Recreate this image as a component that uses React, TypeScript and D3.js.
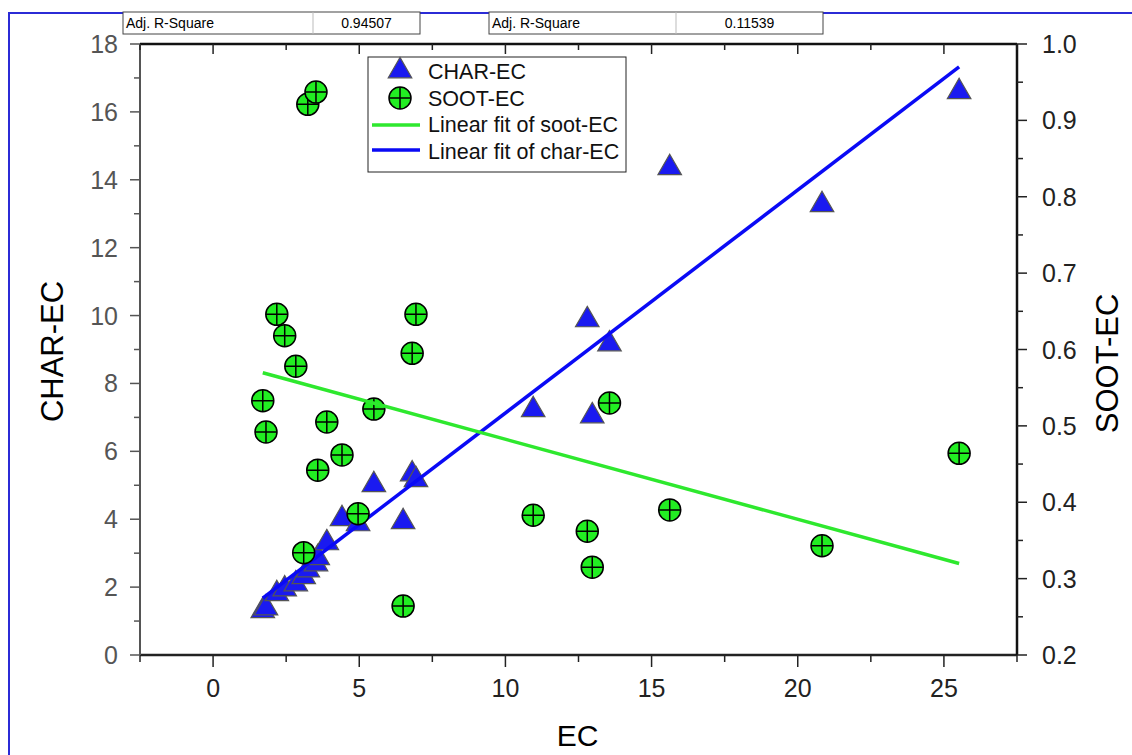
import React, { useEffect, useRef } from 'react';
import * as d3 from 'd3';

// EC values, with matching CHAR-EC and SOOT-EC readings
const ecValues = [1.70, 1.81, 2.18, 2.45, 2.83, 3.10, 3.24, 3.52, 3.58, 3.89, 4.41, 4.96, 5.50, 6.50, 6.81, 6.94, 10.95, 12.80, 12.97, 13.56, 15.62, 20.83, 25.52];
const charValues = [1.36, 1.44, 1.86, 2.00, 2.15, 2.36, 2.56, 2.74, 2.92, 3.36, 4.07, 3.92, 5.07, 3.98, 5.39, 5.22, 7.28, 9.93, 7.10, 9.22, 14.41, 13.32, 16.65];
const sootValues = [0.533, 0.492, 0.646, 0.618, 0.578, 0.334, 0.921, 0.937, 0.442, 0.505, 0.462, 0.385, 0.522, 0.264, 0.595, 0.646, 0.383, 0.362, 0.315, 0.530, 0.390, 0.343, 0.464];

const xTicks = [0, 5, 10, 15, 20, 25];
const yLeftTicks = [0, 2, 4, 6, 8, 10, 12, 14, 16, 18];
const yRightTicks = [0.2, 0.3, 0.4, 0.5, 0.6, 0.7, 0.8, 0.9, 1.0];
const adjR2 = ['0.94507', '0.11539'];
const legendLabels = ['CHAR-EC', 'SOOT-EC', 'Linear fit of soot-EC', 'Linear fit of char-EC'];

const FONT = 'Arial, "Liberation Sans", sans-serif';

function linFit(xs, ys) {
    const mx = d3.mean(xs);
    const my = d3.mean(ys);
    let sxy = 0, sxx = 0;
    xs.forEach((x, i) => {
        sxy += (x - mx) * (ys[i] - my);
        sxx += (x - mx) * (x - mx);
    });
    const b = sxy / sxx;
    return { a: my - b * mx, b };
}

function App() {
    const svgRef = useRef();

    useEffect(() => {
        const svg = d3.select(svgRef.current);
        svg.selectAll('*').remove();

        const left = 140, right = 1017, top = 44, bottom = 655;
        const x = d3.scaleLinear().domain([-2.5, 27.5]).range([left, right]);
        const yL = d3.scaleLinear().domain([0, 18]).range([bottom, top]);
        const yR = d3.scaleLinear().domain([0.2, 1.0]).range([bottom, top]);

        svg.append('rect').attr('width', 1132).attr('height', 755).attr('fill', '#fff');

        // blue page frame
        svg.append('path')
            .attr('d', 'M9,755 L9,13 L1132,13')
            .attr('fill', 'none')
            .attr('stroke', '#2b2bd6')
            .attr('stroke-width', 2);

        // Adj. R-Square tables
        const tables = [{ x0: 123, x1: 313, x2: 420 }, { x0: 489, x1: 676, x2: 823 }];
        tables.forEach((t, i) => {
            const g = svg.append('g');
            g.append('rect').attr('x', t.x0).attr('y', 12).attr('width', t.x2 - t.x0).attr('height', 22)
                .attr('fill', '#fff').attr('stroke', '#444').attr('stroke-width', 1);
            g.append('line').attr('x1', t.x1).attr('x2', t.x1).attr('y1', 12).attr('y2', 34)
                .attr('stroke', '#bbb');
            g.append('text').attr('x', t.x0 + 3).attr('y', 28).attr('font-family', FONT).attr('font-size', 14)
                .text('Adj. R-Square');
            g.append('text').attr('x', (t.x1 + t.x2) / 2).attr('y', 28).attr('font-family', FONT).attr('font-size', 14)
                .attr('text-anchor', 'middle').text(adjR2[i]);
        });

        // axes frame
        svg.append('line').attr('x1', left).attr('x2', right).attr('y1', top).attr('y2', top)
            .attr('stroke', '#111').attr('stroke-width', 2.5);
        svg.append('line').attr('x1', left).attr('x2', right).attr('y1', bottom).attr('y2', bottom)
            .attr('stroke', '#222').attr('stroke-width', 2.5);
        svg.append('line').attr('x1', left).attr('x2', left).attr('y1', top).attr('y2', bottom)
            .attr('stroke', '#555').attr('stroke-width', 2);
        svg.append('line').attr('x1', right).attr('x2', right).attr('y1', top).attr('y2', bottom)
            .attr('stroke', '#111').attr('stroke-width', 2.5);

        const ticks = svg.append('g').attr('stroke', '#222').attr('stroke-width', 1.5);
        // x ticks (bottom outward, top inward)
        d3.range(-2.5, 27.6, 2.5).forEach((v) => {
            const major = xTicks.includes(v);
            const len = major ? 12 : 7;
            ticks.append('line').attr('x1', x(v)).attr('x2', x(v)).attr('y1', bottom).attr('y2', bottom + len);
            ticks.append('line').attr('x1', x(v)).attr('x2', x(v)).attr('y1', top).attr('y2', top + (major ? 10 : 6));
        });
        d3.range(0, 18.1, 1).forEach((v) => {
            const major = v % 2 === 0;
            ticks.append('line').attr('x1', left).attr('x2', left - (major ? 10 : 6)).attr('y1', yL(v)).attr('y2', yL(v))
                .attr('stroke', '#555');
        });
        d3.range(0, 17).forEach((i) => {
            const v = 0.2 + i * 0.05;
            const major = i % 2 === 0;
            ticks.append('line').attr('x1', right).attr('x2', right + (major ? 10 : 6)).attr('y1', yR(v)).attr('y2', yR(v));
        });

        // tick labels
        const labels = svg.append('g').attr('font-family', FONT).attr('font-size', 25).attr('fill', '#222');
        xTicks.forEach((v) => {
            labels.append('text').attr('x', x(v)).attr('y', bottom + 42).attr('text-anchor', 'middle').text(v);
        });
        yLeftTicks.forEach((v) => {
            labels.append('text').attr('x', left - 22).attr('y', yL(v) + 9).attr('text-anchor', 'end')
                .attr('fill', '#555').text(v);
        });
        yRightTicks.forEach((v) => {
            labels.append('text').attr('x', right + 25).attr('y', yR(v) + 9).text(d3.format('.1f')(v));
        });

        // axis titles
        svg.append('text').attr('x', (left + right) / 2 - 1).attr('y', 746).attr('text-anchor', 'middle')
            .attr('font-family', FONT).attr('font-size', 30).text('EC');
        svg.append('text').attr('transform', `translate(63,${(top + bottom) / 2 + 2}) rotate(-90)`)
            .attr('text-anchor', 'middle').attr('font-family', FONT).attr('font-size', 31).text('CHAR-EC');
        svg.append('text').attr('transform', `translate(1118,${(top + bottom) / 2 + 14}) rotate(-90)`)
            .attr('text-anchor', 'middle').attr('font-family', FONT).attr('font-size', 31).text('SOOT-EC');

        const tri = d3.symbol().type(d3.symbolTriangle).size(240);
        const drawTri = (g, cx, cy) => g.append('path').attr('d', tri())
            .attr('transform', `translate(${cx},${cy + 2})`)
            .attr('fill', '#1a1af0').attr('stroke', '#555').attr('stroke-width', 1.2);
        const drawCircle = (g, cx, cy) => {
            const c = g.append('g').attr('transform', `translate(${cx},${cy})`);
            c.append('circle').attr('r', 11).attr('fill', '#22ee22').attr('stroke', '#000').attr('stroke-width', 1.5);
            c.append('path').attr('d', 'M-11,0H11M0,-11V11').attr('stroke', '#000').attr('stroke-width', 1.5);
        };

        // CHAR-EC triangles
        const triG = svg.append('g');
        ecValues.forEach((e, i) => drawTri(triG, x(e), yL(charValues[i])));

        // fit lines
        const ex = d3.extent(ecValues);
        const fc = linFit(ecValues, charValues);
        const fs = linFit(ecValues, sootValues);
        svg.append('line').attr('x1', x(ex[0])).attr('x2', x(ex[1]))
            .attr('y1', yL(fc.a + fc.b * ex[0])).attr('y2', yL(fc.a + fc.b * ex[1]))
            .attr('stroke', '#0a0af5').attr('stroke-width', 3.5);

        // SOOT-EC circles
        const cirG = svg.append('g');
        ecValues.forEach((e, i) => drawCircle(cirG, x(e), yR(sootValues[i])));

        svg.append('line').attr('x1', x(ex[0])).attr('x2', x(ex[1]))
            .attr('y1', yR(fs.a + fs.b * ex[0])).attr('y2', yR(fs.a + fs.b * ex[1]))
            .attr('stroke', '#2ee82e').attr('stroke-width', 3.5);

        // legend
        const lg = svg.append('g');
        lg.append('rect').attr('x', 368).attr('y', 57).attr('width', 258).attr('height', 115)
            .attr('fill', '#fff').attr('stroke', '#222').attr('stroke-width', 1);
        drawTri(lg, 400, 69);
        drawCircle(lg, 400, 98);
        lg.append('line').attr('x1', 372).attr('x2', 420).attr('y1', 125).attr('y2', 125)
            .attr('stroke', '#2ee82e').attr('stroke-width', 3.5);
        lg.append('line').attr('x1', 372).attr('x2', 420).attr('y1', 150).attr('y2', 150)
            .attr('stroke', '#0a0af5').attr('stroke-width', 3.5);
        legendLabels.forEach((t, i) => {
            lg.append('text').attr('x', 428).attr('y', 79 + i * 26.5).attr('font-family', FONT)
                .attr('font-size', 21.5).attr('fill', '#111').text(t);
        });
    }, []);

    return (
        <svg ref={svgRef} width={1132} height={755} style={{ position: 'absolute', left: 0, top: 0 }}></svg>
    );
}

export default App;
